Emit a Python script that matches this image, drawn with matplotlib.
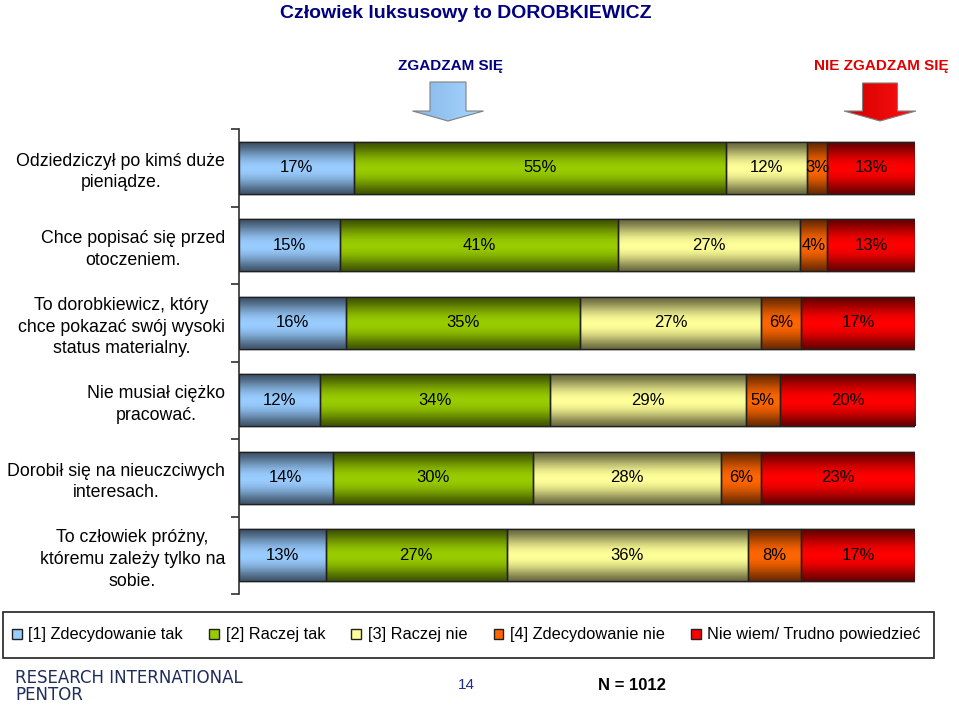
import numpy as np
import matplotlib
matplotlib.use("Agg")
import matplotlib.pyplot as plt
from matplotlib.patches import Polygon, Rectangle
from matplotlib.colors import to_rgb

plt.rcParams['font.family'] = ['Liberation Sans', 'DejaVu Sans']

# ---------------- data ----------------
categories = [
    "Odziedziczył po kimś duże\npieniądze.",
    "Chce popisać się przed\notoczeniem.",
    "To dorobkiewicz, który\nchce pokazać swój wysoki\nstatus materialny.",
    "Nie musiał ciężko\npracować.",
    "Dorobił się na nieuczciwych\ninteresach.",
    "To człowiek próżny,\nktóremu zależy tylko na\nsobie.",
]
series_names = ["[1] Zdecydowanie tak", "[2] Raczej tak", "[3] Raczej nie",
                "[4] Zdecydowanie nie", "Nie wiem/ Trudno powiedzieć"]
zdecydowanie_tak = [17, 15, 16, 12, 14, 13]
raczej_tak = [55, 41, 35, 34, 30, 27]
raczej_nie = [12, 27, 27, 29, 28, 36]
zdecydowanie_nie = [3, 4, 6, 5, 6, 8]
nie_wiem = [13, 13, 17, 20, 23, 17]
series_values = [zdecydowanie_tak, raczej_tak, raczej_nie, zdecydowanie_nie, nie_wiem]
colors = ["#99CCFF", "#99CC00", "#FFFF99", "#FF6600", "#FF0000"]

title = "Człowiek luksusowy to DOROBKIEWICZ"
n_text = "N = 1012"
page_no = "14"

# ---------------- figure ----------------
W, H = 959, 707
fig = plt.figure(figsize=(W / 100, H / 100), dpi=100)
fig.patch.set_facecolor("white")
fig.suppressComposite = True

ax_l, ax_r, ax_t, ax_b = 239, 915, 129, 594
ax = fig.add_axes([ax_l / W, 1 - ax_b / H, (ax_r - ax_l) / W, (ax_b - ax_t) / H])

vals = np.array(series_values, dtype=float)
totals = vals.sum(axis=0)
norm = vals / totals * 100.0
y = np.arange(len(categories))
bar_h = 0.67

# vertical shading profile (dark top/bottom, bright middle)
t = np.linspace(0, 1, 101)
prof = 0.42 + 0.58 * np.sin(np.pi * np.clip((t - 0.02) / 0.98, 0, 1)) ** 1.3

left = np.zeros(len(categories))
handles = []
for si, (row, c) in enumerate(zip(norm, colors)):
    bars = ax.barh(y, row, left=left, height=bar_h, color=c, edgecolor="#202020",
                   linewidth=1.0, zorder=2, label=series_names[si])
    handles.append(bars)
    base = np.array(to_rgb(c))
    grad = np.repeat((prof[:, None] * base[None, :])[:, None, :], 4, axis=1)
    for p, raw in zip(bars.patches, vals[si]):
        x0, y0 = p.get_x(), p.get_y()
        w, h = p.get_width(), p.get_height()
        ax.imshow(grad, extent=[x0, x0 + w, y0 + h, y0], aspect="auto",
                  interpolation="bilinear", zorder=2.5, origin="upper")
        ax.add_patch(Rectangle((x0, y0), w, h, fill=False, edgecolor="#202020",
                               linewidth=1.0, zorder=3))
        ax.text(x0 + w / 2, y0 + h / 2, f"{int(raw)}%", ha="center", va="center",
                fontsize=12, color="black", zorder=4)
    left = left + row

ax.set_xlim(0, 100)
ax.set_ylim(len(categories) - 0.5, -0.5)
for s in ["top", "right", "bottom"]:
    ax.spines[s].set_visible(False)
ax.spines["left"].set_color("#303030")
ax.spines["left"].set_linewidth(1.2)
ax.set_xticks([])
ax.set_yticks(np.arange(-0.5, len(categories), 1.0))
ax.set_yticklabels([])
ax.tick_params(axis="y", which="major", direction="out", length=6, color="#303030", width=1.2)
ax.set_yticks(y, minor=True)
ax.set_yticklabels(categories, minor=True, fontsize=12.8, multialignment="center",
                   linespacing=1.36)
ax.tick_params(axis="y", which="minor", length=0, pad=10)

# ---------------- overlay (pixel coords) ----------------
ov = fig.add_axes([0, 0, 1, 1], zorder=-1)
ov.set_xlim(0, W)
ov.set_ylim(H, 0)
ov.axis("off")

ov.text(280, 13, title, fontsize=14, fontweight="bold", color="#000080",
        ha="left", va="center")
ov.text(450, 66, "ZGADZAM SIĘ", fontsize=11, fontweight="bold", color="#000080",
        ha="center", va="center")
ov.text(881, 66, "NIE ZGADZAM SIĘ", fontsize=11, fontweight="bold", color="#E00000",
        ha="center", va="center")


def arrow(cx, sw, hw, top, hy, tip, c1, c2):
    pts = [(cx - sw / 2, top), (cx + sw / 2, top), (cx + sw / 2, hy), (cx + hw / 2, hy),
           (cx, tip), (cx - hw / 2, hy), (cx - sw / 2, hy)]
    poly = Polygon(pts, closed=True, facecolor="none", edgecolor="#808080",
                   linewidth=0.8, zorder=3)
    ov.add_patch(poly)
    g = np.linspace(0, 1, 64)
    a, b = np.array(to_rgb(c1)), np.array(to_rgb(c2))
    img = (a[None, :] * (1 - g[:, None]) + b[None, :] * g[:, None])[None, :, :]
    im = ov.imshow(img, extent=[cx - hw / 2, cx + hw / 2, tip, top], aspect="auto",
                   zorder=2, interpolation="bicubic")
    im.set_clip_path(poly)


arrow(448, 36, 71, 82, 111, 121, "#88B8E8", "#A8D4FF")
arrow(880, 35, 72, 83, 111, 121, "#D00000", "#FF1010")
ov.set_xlim(0, W)
ov.set_ylim(H, 0)

# legend box
ov.add_patch(Rectangle((3, 612), 931, 46, fill=False, edgecolor="#202020",
                       linewidth=1.2, zorder=3))
fig.legend(handles=handles, labels=series_names, loc="center", ncol=5,
           bbox_to_anchor=(466.5 / W, 1 - 635 / H), frameon=False, fontsize=11.8,
           handlelength=0.6, handleheight=0.6, handletextpad=0.4,
           borderaxespad=0, borderpad=0, columnspacing=1.6)

# footer
ov.text(15, 678, "RESEARCH INTERNATIONAL", fontsize=12, color="#1F2D5C",
        ha="left", va="center", family=["DejaVu Sans"])
ov.text(15, 695, "PENTOR", fontsize=12, color="#1F2D5C",
        ha="left", va="center", family=["DejaVu Sans"])
ov.text(466, 685, page_no, fontsize=11, color="#1F2D8C", ha="center", va="center")
ov.text(632, 686, n_text, fontsize=12, fontweight="bold", color="black",
        ha="center", va="center")

fig.savefig("out.png", dpi=100, facecolor="white")
